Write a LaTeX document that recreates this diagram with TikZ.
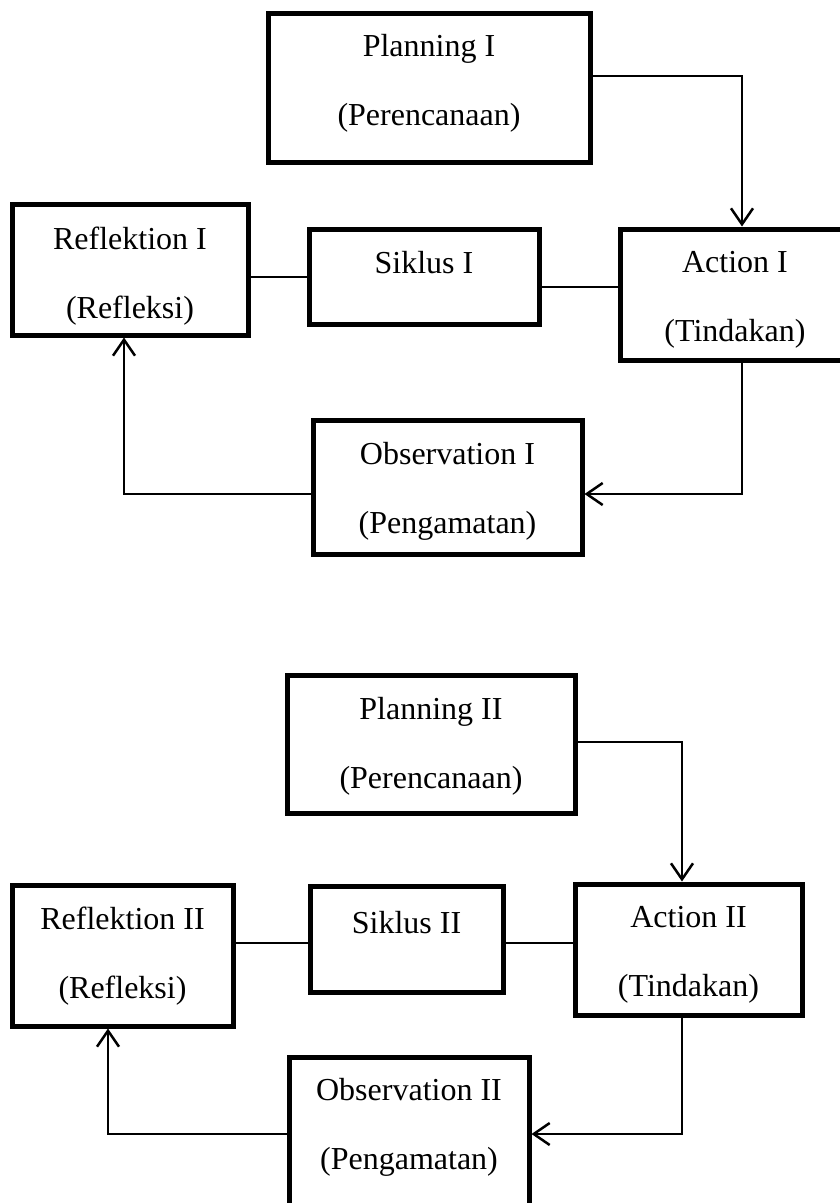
\documentclass[tikz,border=0pt]{standalone}
\usepackage{fontspec}
\setmainfont{Liberation Serif}
\usetikzlibrary{arrows.meta}
\tikzset{
  box/.style={draw, line width=5pt, line join=miter, inner sep=0pt, rectangle},
  lbl/.style={inner sep=0pt, align=center, anchor=north, font=\fontsize{32pt}{69pt}\selectfont},
  conn/.style={line width=2.2pt},
  arr/.style={conn, -{Straight Barb[length=16pt,width=22pt,line width=2.5pt]}}
}
\begin{document}
\begin{tikzpicture}[x=1pt, y=-1pt]
\useasboundingbox (0,0) rectangle (839,1203);

% ---- Cycle I ----
\node[box, minimum width=322pt, minimum height=149pt] (p1) at (429,87.5) {};
\node[lbl] at ([yshift=-24pt]p1.north) {Planning I\\(Perencanaan)};

\node[box, minimum width=236pt, minimum height=131pt] (r1) at (130,269.5) {};
\node[lbl] at ([yshift=-25pt]r1.north) {Reflektion I\\(Refleksi)};

\node[box, minimum width=230pt, minimum height=95pt] (s1) at (424,276.5) {};
\node[lbl] at ([yshift=-25pt]s1.north) {Siklus I};

\node[box, minimum width=230pt, minimum height=131pt] (a1) at (735,294.5) {};
\node[lbl] at ([yshift=-25pt]a1.north) {Action I\\(Tindakan)};

\node[box, minimum width=269pt, minimum height=134pt] (o1) at (447.5,487) {};
\node[lbl] at ([yshift=-25pt]o1.north) {Observation I\\(Pengamatan)};

\draw[arr] ([yshift=11.5pt]p1.east) -| ([xshift=7pt]a1.north);
\draw[conn] ([yshift=-0.5pt]s1.west) -- ([yshift=-0.5pt]s1.west -| r1.east);
\draw[conn] ([yshift=-10.5pt]s1.east) -- ([yshift=-10.5pt]s1.east -| a1.west);
\draw[arr] ([xshift=7pt]a1.south) |- ([yshift=-7pt]o1.east);
\draw[arr] ([yshift=-7pt]o1.west) -| ([xshift=-6pt]r1.south);

% ---- Cycle II ----
\node[box, minimum width=288pt, minimum height=138pt] (p2) at (431,744) {};
\node[lbl] at ([yshift=-25pt]p2.north) {Planning II\\(Perencanaan)};

\node[box, minimum width=221pt, minimum height=141pt] (r2) at (122.5,955.5) {};
\node[lbl] at ([yshift=-24pt]r2.north) {Reflektion II\\(Refleksi)};

\node[box, minimum width=193pt, minimum height=106pt] (s2) at (406.5,939) {};
\node[lbl] at ([yshift=-28pt]s2.north) {Siklus II};

\node[box, minimum width=227pt, minimum height=131pt] (a2) at (688.5,949.5) {};
\node[lbl] at ([yshift=-25pt]a2.north) {Action II\\(Tindakan)};

\node[box, minimum width=240pt, minimum height=158pt] (o2) at (409,1136) {};
\node[lbl] at ([yshift=-24pt]o2.north) {Observation II\\(Pengamatan)};

\draw[arr] ([yshift=2pt]p2.east) -| ([xshift=-6.5pt]a2.north);
\draw[conn] ([yshift=-4pt]s2.west) -- ([yshift=-4pt]s2.west -| r2.east);
\draw[conn] ([yshift=-4pt]s2.east) -- ([yshift=-4pt]s2.east -| a2.west);
\draw[arr] ([xshift=-6.5pt]a2.south) |- ([yshift=2pt]o2.east);
\draw[arr] ([yshift=2pt]o2.west) -| ([xshift=-14.5pt]r2.south);
\end{tikzpicture}
\end{document}
